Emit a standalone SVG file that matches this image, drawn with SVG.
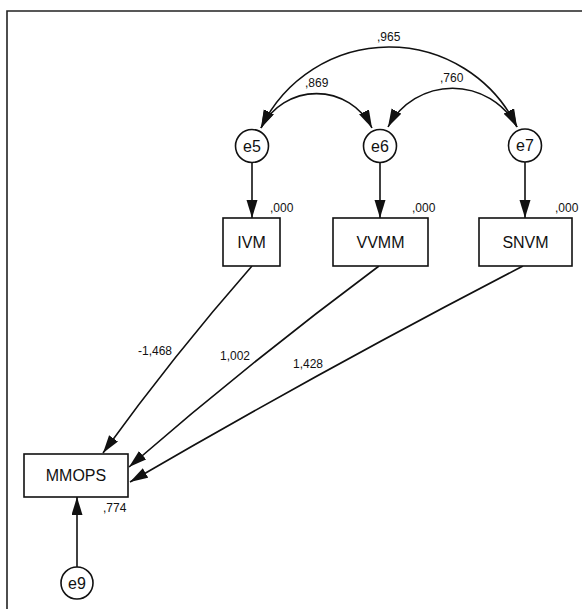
<svg xmlns="http://www.w3.org/2000/svg" width="582" height="609" viewBox="0 0 582 609">
<defs>
<marker id="ah" markerUnits="userSpaceOnUse" markerWidth="20" markerHeight="12" refX="18" refY="5.5" orient="auto-start-reverse" viewBox="0 0 20 12">
<path d="M0,0 L18,5.5 L0,11 Z" fill="#111"/>
</marker>
<style>
.c{fill:none;stroke:#111;stroke-width:1.6;marker-end:url(#ah)}
.d{fill:none;stroke:#111;stroke-width:1.6;marker-start:url(#ah);marker-end:url(#ah)}
.n{fill:#fff;stroke:#111;stroke-width:1.6}
.t{font-family:"Liberation Sans",Arial,sans-serif;font-size:16px;fill:#111;text-anchor:middle;dominant-baseline:central}
.s{font-family:"Liberation Sans",Arial,sans-serif;font-size:12px;fill:#111}
</style>
</defs>
<rect width="582" height="609" fill="#fff"/>
<path d="M7,609 L7,11 L582,11" fill="none" stroke="#222" stroke-width="1.6"/>
<g id="connectors">
<path class="d" d="M517,127 A142,142 0 0 0 261,128"/>
<path class="d" d="M261,128 A62,62 0 0 1 372,128"/>
<path class="d" d="M388,127 A73,73 0 0 1 517,127"/>
<path class="c" d="M252,163 L252,218"/>
<path class="c" d="M380,163 L380,218"/>
<path class="c" d="M525,162 L525,218"/>
<path class="c" d="M252,266 Q173,356 103,453"/>
<path class="c" d="M379,266 Q250,362 129,467"/>
<path class="c" d="M523,266 Q324,369 130,482"/>
<path class="c" d="M77,567 L77,497"/>
</g>
<g id="labels">
<text class="s" x="377" y="41">,965</text>
<text class="s" x="305" y="87">,869</text>
<text class="s" x="440" y="82">,760</text>
<text class="s" x="270" y="212">,000</text>
<text class="s" x="412" y="212">,000</text>
<text class="s" x="555" y="212">,000</text>
<text class="s" x="138" y="355">-1,468</text>
<text class="s" x="220" y="360">1,002</text>
<text class="s" x="293" y="368">1,428</text>
<text class="s" x="103" y="512">,774</text>
</g>
<g id="e5"><circle class="n" cx="252" cy="146" r="16.5"/><text class="t" x="252" y="146">e5</text></g>
<g id="e6"><circle class="n" cx="380" cy="146" r="16.5"/><text class="t" x="380" y="146">e6</text></g>
<g id="e7"><circle class="n" cx="525" cy="145.5" r="16.5"/><text class="t" x="525" y="145.5">e7</text></g>
<g id="IVM"><rect class="n" x="223" y="218" width="57" height="48"/><text class="t" x="251.5" y="242">IVM</text></g>
<g id="VVMM"><rect class="n" x="333" y="218" width="95" height="48"/><text class="t" x="380.5" y="242">VVMM</text></g>
<g id="SNVM"><rect class="n" x="479" y="218" width="93" height="48"/><text class="t" x="525.5" y="242">SNVM</text></g>
<g id="MMOPS"><rect class="n" x="24" y="454" width="104" height="43"/><text class="t" x="76" y="475.5">MMOPS</text></g>
<g id="e9"><circle class="n" cx="77" cy="583" r="16"/><text class="t" x="77" y="583">e9</text></g>
</svg>
